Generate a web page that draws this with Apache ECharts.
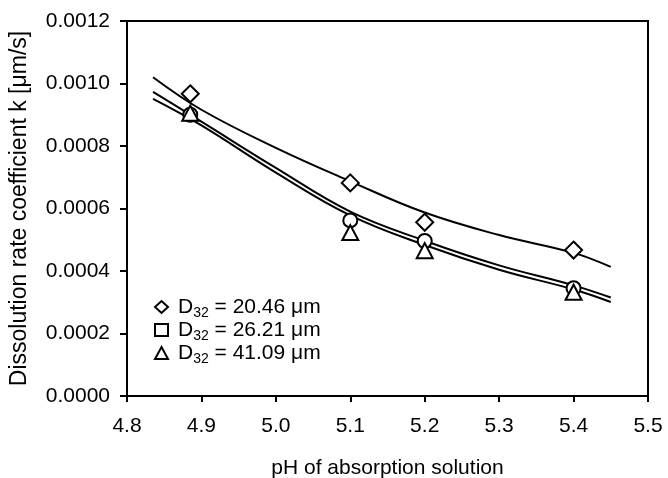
<!DOCTYPE html>
<html>
<head>
<meta charset="utf-8">
<script src="https://cdn.jsdelivr.net/npm/echarts@6/dist/echarts.min.js"></script>
<style>
html,body{margin:0;padding:0;background:#fff;}
#chart{width:668px;height:478px;}
</style>
</head>
<body>
<div id="chart"></div>
<script>
// Measured points
var pH = [4.885, 5.1, 5.2, 5.4];
var k20 = [0.000967, 0.000682, 0.000556, 0.000467];
var k26 = [0.000900, 0.000562, 0.000496, 0.000345];
var k41 = [0.000905, 0.000523, 0.000465, 0.000332];

// Fitted curves
var fitPH = [4.835, 4.9, 5.0, 5.1, 5.2, 5.3, 5.4, 5.45];
var fit20 = [0.00102, 0.000916, 0.000794, 0.000687, 0.000587, 0.000515, 0.000458, 0.000413];
var fit26 = [0.000973, 0.000878, 0.00073, 0.000590, 0.000497, 0.000418, 0.000354, 0.000315];
var fit41 = [0.000951, 0.000866, 0.000715, 0.000578, 0.000483, 0.000404, 0.000341, 0.000301];

var seriesNames = ['D32 = 20.46 μm', 'D32 = 26.21 μm', 'D32 = 41.09 μm'];
var legendValues = ['20.46', '26.21', '41.09'];

function pairs(xs, ys) { return xs.map(function (x, i) { return [x, ys[i]]; }); }

var FONT = '"Liberation Sans", Arial, sans-serif';
var chart = echarts.init(document.getElementById('chart'));

function scatter(name, ys, sym, size) {
  return {
    name: name, type: 'scatter', data: pairs(pH, ys), symbol: sym, symbolSize: size,
    itemStyle: { color: '#fff', borderColor: '#000', borderWidth: 2, opacity: 1 },
    z: 3
  };
}
function fit(ys) {
  return {
    type: 'line', data: pairs(fitPH, ys), smooth: 0.4, showSymbol: false, symbol: 'none',
    lineStyle: { color: '#000', width: 2 }, z: 2, silent: true
  };
}

chart.setOption({
  animation: false,
  backgroundColor: '#fff',
  grid: { left: 127, right: 20, top: 21, bottom: 82, show: true, borderColor: '#000', borderWidth: 2,
    containLabel: false, outerBoundsMode: 'none' },
  xAxis: {
    type: 'value', min: 4.8, max: 5.5, interval: 0.1,
    name: 'pH of absorption solution', nameLocation: 'middle', nameGap: 62,
    nameTextStyle: { color: '#000', fontSize: 21, fontFamily: FONT },
    axisLine: { show: true, lineStyle: { color: '#000', width: 2 } },
    axisTick: { show: true, length: 6, lineStyle: { color: '#000', width: 2 } },
    axisLabel: { color: '#000', fontSize: 21, fontFamily: FONT, margin: 20,
      formatter: function (v) { return v.toFixed(1); } },
    splitLine: { show: false }
  },
  yAxis: {
    type: 'value', min: 0, max: 0.0012, interval: 0.0002,
    name: 'Dissolution rate coefficient k [μm/s]', nameLocation: 'middle', nameGap: 96,
    nameTextStyle: { color: '#000', fontSize: 23, fontFamily: FONT },
    axisLine: { show: true, lineStyle: { color: '#000', width: 2 } },
    axisTick: { show: true, length: 7, lineStyle: { color: '#000', width: 2 } },
    axisLabel: { color: '#000', fontSize: 21, fontFamily: FONT, margin: 17,
      formatter: function (v) { return v.toFixed(4); } },
    splitLine: { show: false }
  },
  legend: {
    orient: 'vertical', left: 149, top: 292, itemGap: 0, itemWidth: 13, itemHeight: 12,
    data: [
      { name: seriesNames[0], icon: 'diamond', itemStyle: { color: '#fff', borderColor: '#000', borderWidth: 2 } },
      { name: seriesNames[1], icon: 'rect', itemStyle: { color: '#fff', borderColor: '#000', borderWidth: 2 } },
      { name: seriesNames[2], icon: 'triangle', itemStyle: { color: '#fff', borderColor: '#000', borderWidth: 2 } }
    ],
    formatter: function (name) {
      var i = seriesNames.indexOf(name);
      return '{p|D}{s|32}{d| = ' + legendValues[i] + ' μm}';
    },
    textStyle: {
      color: '#000', fontFamily: FONT, fontSize: 21,
      rich: {
        p: { fontSize: 21, fontFamily: FONT, color: '#000', lineHeight: 20, verticalAlign: 'top', padding: [0, 0, 0, 5] },
        d: { fontSize: 21, fontFamily: FONT, color: '#000', lineHeight: 20, verticalAlign: 'top' },
        s: { fontSize: 14, fontFamily: FONT, color: '#000', lineHeight: 14, verticalAlign: 'top', padding: [9, 0, 0, 0] }
      }
    }
  },
  series: [
    fit(fit20), fit(fit26), fit(fit41),
    scatter(seriesNames[0], k20, 'diamond', 17),
    scatter(seriesNames[1], k26, 'circle', 14),
    scatter(seriesNames[2], k41, 'triangle', [16, 15])
  ]
});
</script>
</body>
</html>
